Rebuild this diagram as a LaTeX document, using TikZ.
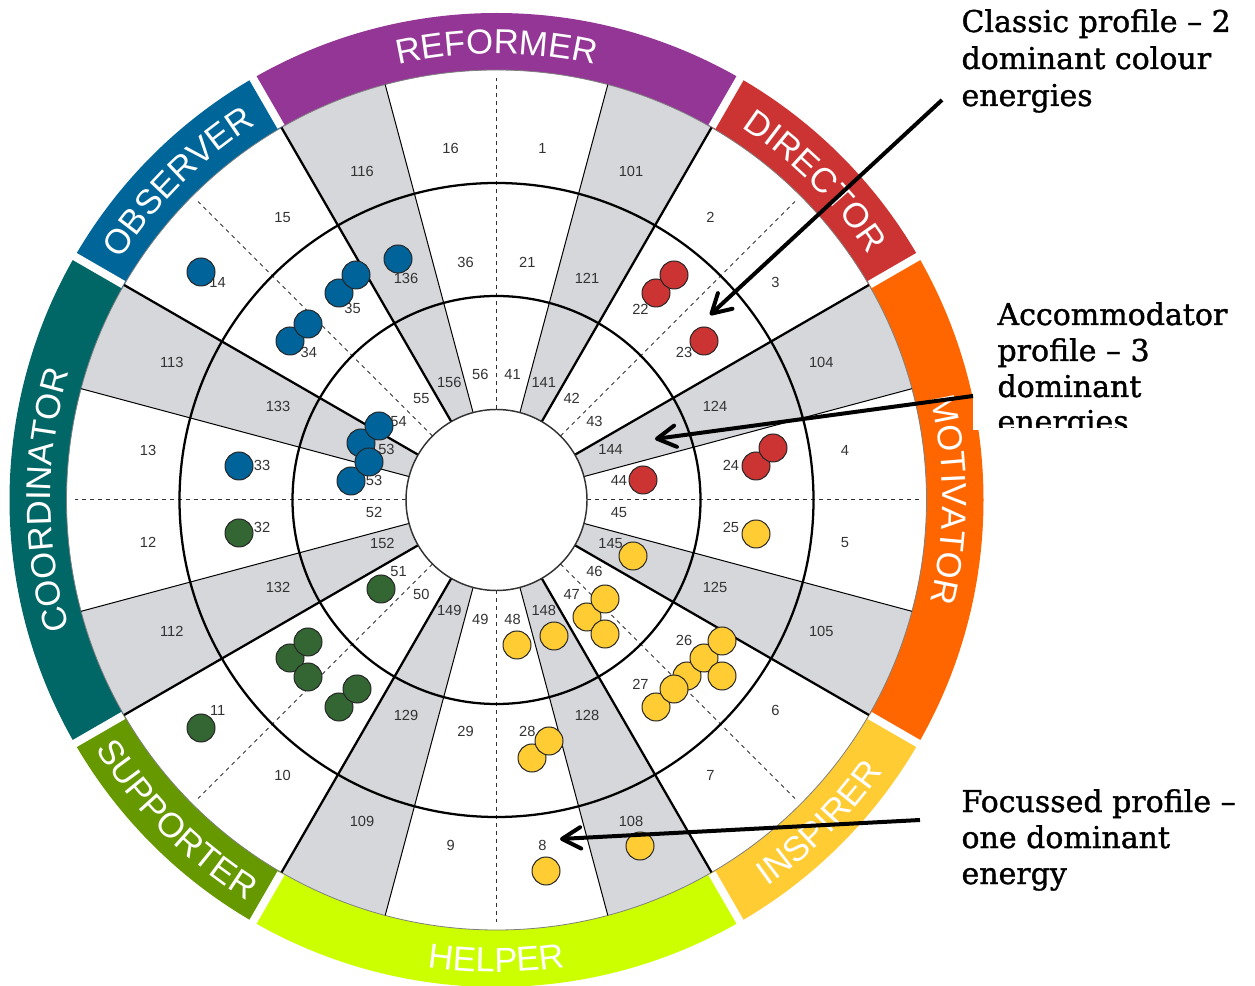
\documentclass[tikz,border=0pt]{standalone}
\usepackage{fontspec}
\setmainfont{DejaVu Serif}
\newfontfamily\wheelfont{Liberation Sans}
\newfontfamily\notefont{DejaVu Serif}[FakeBold=1.2]
\usetikzlibrary{arrows.meta,decorations.text}

\definecolor{reformer}{RGB}{147,54,150}
\definecolor{director}{RGB}{204,51,51}
\definecolor{motivator}{RGB}{255,102,0}
\definecolor{inspirer}{RGB}{255,204,51}
\definecolor{helper}{RGB}{204,255,0}
\definecolor{supporter}{RGB}{102,153,0}
\definecolor{coordinator}{RGB}{0,102,102}
\definecolor{observer}{RGB}{0,102,153}
\definecolor{wedgegray}{RGB}{214,215,219}
\definecolor{numgray}{RGB}{51,51,51}
\definecolor{dotblue}{RGB}{0,99,154}
\definecolor{dotred}{RGB}{204,51,51}
\definecolor{dotgreen}{RGB}{51,102,51}
\definecolor{dotyellow}{RGB}{255,204,51}

\newcommand{\bandfont}{\wheelfont\fontsize{26}{26}\selectfont\color{white}}

\tikzset{every picture/.style={line width=0.75pt},
  numlabel/.style={font=\wheelfont\fontsize{11}{11}\selectfont, text=numgray, inner sep=0pt},
  dot/.style={circle, draw=black!85, line width=0.75pt, minimum size=21pt, inner sep=0pt},
  thickspoke/.style={line width=1.7pt},
  thinspoke/.style={line width=0.75pt},
  dashspoke/.style={line width=0.75pt, draw=numgray, dash pattern=on 3pt off 3pt},
  bandgap/.style={draw=white, line width=6pt},
  notetext/.style={font=\notefont\fontsize{22.5}{27}\selectfont, anchor=base west, inner sep=0pt},
  calloutarrow/.style={line width=3pt, -{Straight Barb[length=14pt,width=16pt,round]}},
  bandtext/.style={decorate, decoration={text along path, text align=center, text={|\bandfont|#1}}}
}

\begin{document}
\begin{tikzpicture}[x=0.75pt,y=0.75pt]
\useasboundingbox (0,0) rectangle (1255,985);

\begin{scope}[shift={(496.5,485)}]
    %Shape: colour bands
    \foreach \a/\b/\col in {60/120/reformer, 30/60/director, -30/30/motivator, -60/-30/inspirer,
                            -120/-60/helper, -150/-120/supporter, 150/210/coordinator, 120/150/observer}
      \fill[\col] (\a:430) arc[start angle=\a, end angle=\b, radius=430] -- (\b:487) arc[start angle=\b, end angle=\a, radius=487] -- cycle;
    \foreach \a in {30,60,120,150,210,240,300,330}
      \draw[bandgap] (\a:431) -- (\a:500);

    %Shape: grey wedges
    \foreach \a in {15,60,105,150,195,240,285,330}
      \fill[wedgegray] (\a:90.5) arc[start angle=\a, end angle=\a+15, radius=90.5] -- ({\a+15}:430) arc[start angle=\a+15, end angle=\a, radius=430] -- cycle;
    \draw[gray, line width=0.6pt] (0,0) circle[radius=430];

    %Straight Lines: spokes
    \foreach \a in {30,60,120,150,210,240,300,330}
      \draw[thickspoke] (\a:90.5) -- (\a:430);
    \foreach \a in {15,75,105,165,195,255,285,345}
      \draw[thinspoke] (\a:90.5) -- (\a:430);
    \foreach \a in {0,45,...,315}
      \draw[dashspoke] (\a:90.5) -- (\a:422);

    %Shape: rings
    \draw[thickspoke] (0,0) circle[radius=204];
    \draw[thickspoke] (0,0) circle[radius=317];
    \draw[fill=white, draw=numgray, line width=1.1pt] (0,0) circle[radius=90.5];

    % band names
    \path[bandtext=REFORMER] (120:446) arc[start angle=120, end angle=60, radius=446];
    \path[bandtext=DIRECTOR] (60:446) arc[start angle=60, end angle=30, radius=446];
    \path[bandtext=MOTIVATOR] (30:446) arc[start angle=30, end angle=-30, radius=446];
    \path[bandtext=COORDINATOR] (210:446) arc[start angle=210, end angle=150, radius=446];
    \path[bandtext=OBSERVER] (150:446) arc[start angle=150, end angle=120, radius=446];
    \path[bandtext=INSPIRER] (-60:472) arc[start angle=-60, end angle=-30, radius=472];
    \path[bandtext=HELPER] (-120:472) arc[start angle=-120, end angle=-60, radius=472];
    \path[bandtext=SUPPORTER] (-150:472) arc[start angle=-150, end angle=-120, radius=472];

    % Text Node: segment numbers
    \foreach \a/\lab in {7.5/4, 22.5/104, 37.5/3, 52.5/2, 67.5/101, 82.5/1, 97.5/16, 112.5/116,
                         127.5/15, 142.5/14, 157.5/113, 172.5/13, 187.5/12, 202.5/112, 217.5/11, 232.5/10,
                         247.5/109, 262.5/9, 277.5/8, 292.5/108, 307.5/7, 322.5/6, 337.5/105, 352.5/5}
      \node[numlabel] (o\lab) at ([yshift=2.6pt]\a:351.5) {\lab};
    \foreach \a/\lab in {7.5/24, 22.5/124, 37.5/23, 52.5/22, 67.5/121, 82.5/21, 97.5/36, 112.5/136,
                         127.5/35, 142.5/34, 157.5/133, 172.5/33, 187.5/32, 202.5/132,
                         247.5/129, 262.5/29, 277.5/28, 292.5/128, 307.5/27, 322.5/26, 337.5/125, 352.5/25}
      \node[numlabel] (m\lab) at ([yshift=2.6pt]\a:236.5) {\lab};
    \foreach \a/\lab in {7.5/44, 22.5/144, 37.5/43, 52.5/42, 67.5/141, 82.5/41, 97.5/56, 112.5/156,
                         127.5/55, 142.5/54, 157.5/153, 172.5/53, 187.5/52, 202.5/152, 217.5/51, 232.5/50,
                         247.5/149, 262.5/49, 277.5/48, 292.5/148, 307.5/47, 322.5/46, 337.5/145, 352.5/45}
      \node[numlabel] (i\lab) at ([yshift=2.6pt]\a:123.5) {\lab};
\end{scope}

%Shape: Circle - profile dots
\foreach \x/\y [count=\i] in {201/713, 339/692, 356/710, 290/644, 308/661, 398/726, 239/519,
                              351/504, 361/542, 369/523, 379/559}
  \node[dot, fill=dotblue] (blue\i) at (\x,\y) {};
\foreach \x/\y [count=\i] in {656/692, 674/710, 704/644, 756/519, 773/537, 643/505}
  \node[dot, fill=dotred] (red\i) at (\x,\y) {};
\foreach \x/\y [count=\i] in {239/452, 381/396, 290/327, 308/343, 308/308, 339/278, 357/296, 201/257}
  \node[dot, fill=dotgreen] (green\i) at (\x,\y) {};
\foreach \x/\y [count=\i] in {633/429, 587/368, 605/386, 605/351, 554/349, 517/340, 756/451,
                              656/278, 687/309, 674/296, 704/327, 722/344, 722/309,
                              532/227, 549/244, 640/139, 546/114}
  \node[dot, fill=dotyellow] (yellow\i) at (\x,\y) {};

% Text Node: classic profile
\node[notetext] (classicA) at (961,953) {Classic profile – 2};
\node[notetext] (classicB) at (961,916) {dominant colour};
\node[notetext] (classicC) at (961,879) {energies};

% Text Node: accommodator profile
\fill[white] (973,555) rectangle (1255,695);
\begin{scope}
  \clip (973,557) rectangle (1255,695);
  \node[notetext] (accomA) at (997,660) {Accommodator};
  \node[notetext] (accomB) at (997,624) {profile – 3};
  \node[notetext] (accomC) at (997,588) {dominant};
  \node[notetext] (accomD) at (997,553) {energies};
\end{scope}

% Text Node: focussed profile
\begin{scope}
  \clip (940,88) rectangle (1255,200);
  \node[notetext] (focusA) at (961,173) {Focussed profile –};
  \node[notetext] (focusB) at (961,137) {one dominant};
  \node[notetext] (focusC) at (961,101) {energy};
\end{scope}

%Straight Lines: call-out arrows
\coordinate (classicTail) at (942,885);
\coordinate (classicTip) at (710,670);
\coordinate (accomTail) at (973,589);
\coordinate (accomTip) at (655,546);
\coordinate (focusTail) at (920,165);
\coordinate (focusTip) at (560,146);
\draw[calloutarrow] (classicTail) -- (classicTip);
\draw[calloutarrow] (accomTail) -- (accomTip);
\draw[calloutarrow] (focusTail) -- (focusTip);

\end{tikzpicture}
\end{document}
